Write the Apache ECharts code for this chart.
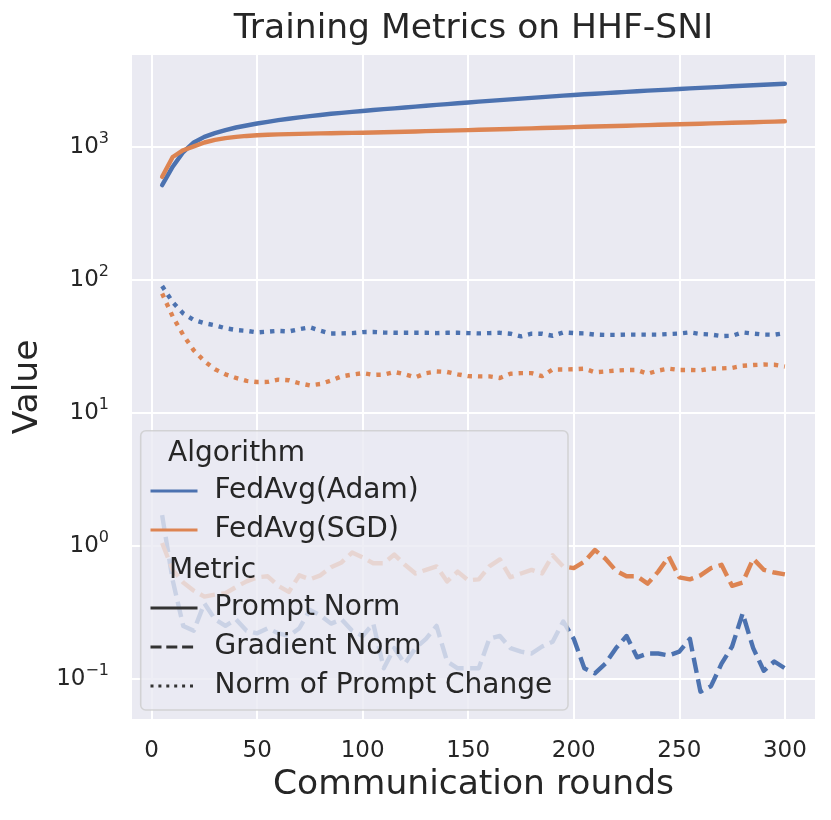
<!DOCTYPE html>
<html>
<head>
  <meta charset="utf-8">
  <title>Training Metrics on HHF-SNI</title>
  <script src="https://cdn.jsdelivr.net/npm/echarts@6.0.0/dist/echarts.min.js"></script>
  <style>
    html, body { margin: 0; padding: 0; background: #fff; }
    #main { width: 831px; height: 820px; }
  </style>
</head>
<body>
  <div id="main"></div>
  <script type="text/javascript">
    // communication rounds
    var rounds = [5, 10, 15, 20, 25, 30, 35, 40, 45, 50,
      55, 60, 65, 70, 75, 80, 85, 90, 95, 100,
      105, 110, 115, 120, 125, 130, 135, 140, 145, 150,
      155, 160, 165, 170, 175, 180, 185, 190, 195, 200,
      205, 210, 215, 220, 225, 230, 235, 240, 245, 250,
      255, 260, 265, 270, 275, 280, 285, 290, 295, 300];

    // Prompt Norm
    var adamPrompt = [516, 710, 915, 1080, 1190, 1270, 1340, 1400, 1450, 1500,
      1545, 1590, 1630, 1670, 1705, 1740, 1775, 1805, 1835, 1865,
      1895, 1925, 1950, 1980, 2010, 2040, 2070, 2100, 2130, 2160,
      2190, 2220, 2250, 2280, 2310, 2340, 2370, 2400, 2430, 2460,
      2490, 2515, 2540, 2570, 2595, 2620, 2650, 2675, 2700, 2730,
      2755, 2780, 2805, 2830, 2860, 2885, 2910, 2935, 2960, 2990];
    var sgdPrompt = [596, 840, 945, 1010, 1080, 1130, 1165, 1190, 1210, 1225,
      1235, 1242, 1248, 1254, 1260, 1264, 1268, 1272, 1276, 1280,
      1285, 1290, 1296, 1302, 1308, 1314, 1320, 1326, 1332, 1338,
      1345, 1352, 1359, 1366, 1373, 1380, 1388, 1395, 1402, 1410,
      1417, 1424, 1431, 1438, 1445, 1452, 1460, 1467, 1474, 1481,
      1488, 1496, 1503, 1511, 1519, 1527, 1535, 1543, 1551, 1560];

    // Gradient Norm
    var adamGrad = [1.7, 0.55, 0.25, 0.23, 0.37, 0.28, 0.25, 0.28, 0.23, 0.22,
      0.24, 0.22, 0.21, 0.24, 0.33, 0.30, 0.26, 0.28, 0.23, 0.21,
      0.26, 0.12, 0.17, 0.13, 0.17, 0.20, 0.25, 0.135, 0.12, 0.12,
      0.12, 0.20, 0.21, 0.17, 0.16, 0.155, 0.175, 0.19, 0.27, 0.20,
      0.12, 0.11, 0.13, 0.17, 0.21, 0.145, 0.155, 0.155, 0.15, 0.16,
      0.20, 0.08, 0.088, 0.13, 0.175, 0.31, 0.17, 0.115, 0.135, 0.12];
    var sgdGrad = [1.05, 0.66, 0.53, 0.46, 0.415, 0.43, 0.44, 0.49, 0.54, 0.58,
      0.59, 0.50, 0.45, 0.60, 0.56, 0.60, 0.69, 0.75, 0.89, 0.82,
      0.74, 0.74, 0.86, 0.72, 0.62, 0.66, 0.70, 0.54, 0.64, 0.55,
      0.56, 0.70, 0.79, 0.58, 0.62, 0.66, 0.62, 0.85, 0.70, 0.68,
      0.76, 0.93, 0.80, 0.65, 0.59, 0.59, 0.52, 0.64, 0.83, 0.58,
      0.56, 0.60, 0.68, 0.72, 0.50, 0.53, 0.80, 0.66, 0.63, 0.61];

    // Norm of Prompt Change
    var adamChange = [90, 68, 56, 50, 47.3, 45.6, 43.3, 42, 41.4, 40.3,
      40.8, 41.4, 41, 42.6, 44, 41.5, 39.5, 39.6, 39.8, 40.5,
      40.6, 40.2, 40, 40, 40, 40, 39.8, 40, 40, 39.8,
      39.6, 39.8, 40, 39.4, 37.6, 39.4, 39.4, 38, 40.3, 39.8,
      39.6, 38.8, 38.6, 38.6, 38.8, 38.8, 38.8, 38.8, 39.2, 39.5,
      40.3, 39.2, 38.8, 37.8, 38, 40.3, 39.5, 38.8, 38.7, 39.8];
    var sgdChange = [79, 53, 38.5, 29.5, 24.5, 21.3, 19.5, 18.3, 17.4, 17.05,
      17.1, 17.8, 17.6, 16.7, 16.1, 16.5, 17.5, 18.8, 19.4, 19.9,
      19.3, 19.4, 20.3, 19.5, 18.5, 19.9, 20.5, 20.3, 19.5, 18.9,
      18.8, 18.8, 18.3, 19.7, 19.9, 19.9, 18.9, 21.2, 21.2, 21.3,
      21.5, 20.2, 20.5, 20.8, 21, 21, 19.7, 20.8, 21.5, 21,
      21, 20.9, 21.5, 21.6, 21.8, 22.6, 22.9, 23.1, 23, 22.3];

    var algorithms = ['FedAvg(Adam)', 'FedAvg(SGD)'];
    var metrics = ['Prompt Norm', 'Gradient Norm', 'Norm of Prompt Change'];
    var xTicks = [0, 50, 100, 150, 200, 250, 300];

    var FONT = 'DejaVu Sans';
    var TXT = '#262626';
    var BLUE = '#4C72B0', ORANGE = '#DD8452', DARK = '#333333';
    var LW = 4.4;
    var dashPlot = { 'Prompt Norm': 'solid', 'Gradient Norm': [15.5, 6.5], 'Norm of Prompt Change': [4.4, 6] };
    var dashLegend = { 'Prompt Norm': 'solid', 'Gradient Norm': [11, 4.8], 'Norm of Prompt Change': [3, 4.9] };

    function zip(xs, ys) {
      return xs.map(function (x, i) { return [x, ys[i]]; });
    }

    function line(name, ys, color, type) {
      return {
        name: name, type: 'line', data: zip(rounds, ys), z: 2,
        showSymbol: false, symbol: 'none', silent: true,
        color: color,
        lineStyle: { color: color, width: LW, type: type, cap: type === 'solid' ? 'round' : 'butt', join: 'round' }
      };
    }

    // legend-only series (no data)
    function dummy(name, color, type) {
      return {
        name: name, type: 'line', data: [], symbol: 'none', color: color, z: 2,
        lineStyle: { color: color, width: 3, type: type }
      };
    }

    var series = [
      line('Adam / Prompt Norm', adamPrompt, BLUE, dashPlot['Prompt Norm']),
      line('SGD / Prompt Norm', sgdPrompt, ORANGE, dashPlot['Prompt Norm']),
      line('Adam / Gradient Norm', adamGrad, BLUE, dashPlot['Gradient Norm']),
      line('SGD / Gradient Norm', sgdGrad, ORANGE, dashPlot['Gradient Norm']),
      line('Adam / Norm of Prompt Change', adamChange, BLUE, dashPlot['Norm of Prompt Change']),
      line('SGD / Norm of Prompt Change', sgdChange, ORANGE, dashPlot['Norm of Prompt Change']),
      dummy(algorithms[0], BLUE, 'solid'),
      dummy(algorithms[1], ORANGE, 'solid')
    ];
    metrics.forEach(function (m) { series.push(dummy(m, DARK, dashLegend[m])); });

    var supMap = { '-1': '\u22121', '0': '0', '1': '1', '2': '2', '3': '3' };

    function legendBlock(names, top) {
      return {
        data: names, orient: 'vertical', left: 149, top: top, padding: 0, z: 6,
        itemWidth: 47, itemHeight: 14, itemGap: 9, selectedMode: false,
        lineStyle: { width: 3 },
        itemStyle: { opacity: 0, borderWidth: 0 },
        formatter: function (n) { return '{a|' + n + '}'; },
        textStyle: {
          color: TXT, fontFamily: FONT, fontSize: 28, lineHeight: 30,
          rich: { a: { color: TXT, fontFamily: FONT, fontSize: 28, lineHeight: 30, padding: [0, 0, 0, 12] } }
        }
      };
    }

    var myChart = echarts.init(document.getElementById('main'), null, { renderer: 'canvas' });

    var option = {
      animation: false,
      backgroundColor: '#ffffff',
      title: {
        text: 'Training Metrics on HHF-SNI',
        left: 473.5, textAlign: 'center', top: 12, padding: 0,
        textStyle: { color: TXT, fontFamily: FONT, fontSize: 34.5, fontWeight: 'normal' }
      },
      grid: {
        left: 131, right: 15, top: 54, bottom: 100,
        show: true, backgroundColor: '#EAEAF2', borderWidth: 0
      },
      xAxis: {
        type: 'value', min: -9.75, max: 314.75, splitNumber: 6,
        name: 'Communication rounds', nameLocation: 'middle', nameGap: 48,
        nameTextStyle: { color: TXT, fontFamily: FONT, fontSize: 34.5 },
        axisLine: { show: false }, axisTick: { show: false },
        axisLabel: {
          color: TXT, fontFamily: FONT, fontSize: 23, margin: 20,
          showMinLabel: false, showMaxLabel: false,
          formatter: function (v) { return xTicks.indexOf(v) >= 0 ? String(v) : ''; }
        },
        splitLine: { show: true, lineStyle: { color: '#ffffff', width: 2 } }
      },
      yAxis: {
        type: 'log', logBase: 10, min: 0.049, max: 5000,
        name: 'Value', nameLocation: 'middle', nameGap: 82,
        nameTextStyle: { color: TXT, fontFamily: FONT, fontSize: 34.5 },
        axisLine: { show: false }, axisTick: { show: false },
        axisLabel: {
          color: TXT, fontFamily: FONT, margin: 22,
          showMinLabel: false, showMaxLabel: false,
          formatter: function (v) {
            var e = Math.round(Math.log10(v));
            if (Math.abs(Math.log10(v) - e) > 1e-6) return '';
            return '{b|10}{s|' + supMap[String(e)] + '}';
          },
          rich: {
            b: { color: TXT, fontFamily: FONT, fontSize: 23 },
            s: { color: TXT, fontFamily: FONT, fontSize: 16, padding: [0, 0, 16, 0] }
          }
        },
        splitLine: { show: true, lineStyle: { color: '#ffffff', width: 2 } }
      },
      legend: [legendBlock(algorithms, 476), legendBlock(metrics, 593)],
      graphic: {
        z: 3,
        elements: [
          {
            type: 'rect', z: 3, silent: true,
            shape: { x: 140.7, y: 430.7, width: 427.3, height: 279.3, r: 5 },
            style: { fill: 'rgba(234,234,242,0.8)', stroke: 'rgba(204,204,204,0.8)', lineWidth: 1.5 }
          },
          {
            type: 'text', z: 7, silent: true, x: 168, y: 454,
            style: { text: 'Algorithm', fill: TXT, font: '28px "DejaVu Sans"', align: 'left', verticalAlign: 'middle' }
          },
          {
            type: 'text', z: 7, silent: true, x: 169, y: 571,
            style: { text: 'Metric', fill: TXT, font: '28px "DejaVu Sans"', align: 'left', verticalAlign: 'middle' }
          }
        ]
      },
      series: series
    };

    myChart.setOption(option);
  </script>
</body>
</html>
